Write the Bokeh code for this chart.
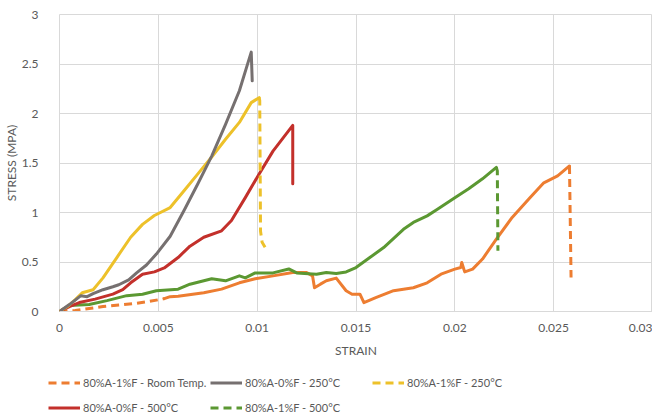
from bokeh.plotting import figure
from bokeh.layouts import column
from bokeh.models import Range1d, FixedTicker, NumeralTickFormatter, Legend, LegendItem
from bokeh.embed import file_html
from bokeh.resources import INLINE

# ---- data (strain, stress in MPa) ----
rt_dash_strain = [0, 0.0008, 0.0015, 0.0022, 0.003, 0.0038, 0.0045, 0.0053]
rt_dash_stress = [0, 0.01, 0.03, 0.05, 0.065, 0.08, 0.10, 0.13]
rt_strain = [0.0053, 0.0056, 0.006, 0.0073, 0.0082, 0.0091, 0.0099, 0.0108, 0.0118, 0.0125,
             0.0128, 0.0129, 0.0132, 0.0135, 0.014, 0.0145, 0.0148, 0.0152, 0.0154, 0.016,
             0.0169, 0.0179, 0.0186, 0.0193, 0.02, 0.0203, 0.02035, 0.0205, 0.0209, 0.0214,
             0.0221, 0.0229, 0.0238, 0.0245, 0.0252, 0.0258]
rt_stress = [0.13, 0.15, 0.155, 0.19, 0.226, 0.29, 0.33, 0.36, 0.394, 0.394,
             0.36, 0.24, 0.276, 0.31, 0.337, 0.21, 0.175, 0.175, 0.09, 0.14,
             0.21, 0.24, 0.29, 0.377, 0.428, 0.444, 0.495, 0.40, 0.428, 0.53,
             0.73, 0.95, 1.15, 1.30, 1.37, 1.47]
rt_drop_strain = [0.0258, 0.02588]
rt_drop_stress = [1.47, 0.343]

g250_strain = [0, 0.0005, 0.00107, 0.0014, 0.0017, 0.0022, 0.0027, 0.003, 0.0035, 0.0039,
               0.0044, 0.0049, 0.0056, 0.0063, 0.007, 0.0077, 0.0084, 0.0091, 0.0097, 0.00975]
g250_stress = [0, 0.07, 0.158, 0.15, 0.18, 0.22, 0.25, 0.27, 0.32, 0.39,
               0.47, 0.58, 0.76, 1.02, 1.29, 1.57, 1.89, 2.23, 2.62, 2.33]

y250_strain = [0, 0.0004, 0.0008, 0.00115, 0.0017, 0.0022, 0.0029, 0.0036, 0.0042, 0.0048,
               0.0056, 0.0063, 0.007, 0.0077, 0.0084, 0.0091, 0.0097, 0.0101]
y250_stress = [0, 0.05, 0.12, 0.19, 0.22, 0.34, 0.545, 0.75, 0.88, 0.97,
               1.05, 1.22, 1.39, 1.56, 1.74, 1.91, 2.11, 2.16]
y250_drop_strain = [0.0101, 0.01013, 0.01017, 0.01025, 0.0104]
y250_drop_stress = [2.16, 2.13, 0.81, 0.70, 0.65]

r500_strain = [0, 0.0005, 0.001, 0.0018, 0.0027, 0.0032, 0.0036, 0.0042, 0.0048, 0.0053,
               0.006, 0.0066, 0.0073, 0.0082, 0.0087, 0.0094, 0.0101, 0.0108, 0.0118, 0.0118]
r500_stress = [0, 0.05, 0.09, 0.125, 0.175, 0.22, 0.29, 0.377, 0.40, 0.44,
               0.545, 0.66, 0.75, 0.815, 0.92, 1.15, 1.39, 1.62, 1.88, 1.29]

gr500_strain = [0, 0.0005, 0.0015, 0.0024, 0.0034, 0.0042, 0.0049, 0.006, 0.0066, 0.0077,
                0.0084, 0.0091, 0.0094, 0.0099, 0.0108, 0.0116, 0.012, 0.013, 0.0135, 0.014,
                0.0145, 0.015, 0.0157, 0.0164, 0.0174, 0.0179, 0.0186, 0.0191, 0.02, 0.0207,
                0.0214, 0.0221]
gr500_stress = [0, 0.06, 0.07, 0.11, 0.16, 0.175, 0.21, 0.225, 0.276, 0.33,
                0.31, 0.36, 0.34, 0.39, 0.39, 0.43, 0.39, 0.377, 0.394, 0.384,
                0.40, 0.444, 0.545, 0.646, 0.83, 0.90, 0.966, 1.03, 1.15, 1.24,
                1.34, 1.455]
gr500_drop_strain = [0.0221, 0.02215, 0.02218]
gr500_drop_stress = [1.455, 1.42, 0.613]

x_ticks = [0, 0.005, 0.01, 0.015, 0.02, 0.025, 0.03]
y_ticks = [0, 0.5, 1, 1.5, 2, 2.5, 3]

labels = ["80%A-1%F - Room Temp.", "80%A-0%F - 250\u00b0C", "80%A-1%F - 250\u00b0C",
          "80%A-0%F - 500\u00b0C", "80%A-1%F - 500\u00b0C"]
colors = ["#ED7D31", "#767070", "#EDC12A", "#C3302B", "#5B9832"]
dashed = [True, False, True, False, True]

FONT = "Lato"
TXT = "#595959"
GRID = "#d9d9d9"
LW = 3
DASH = "8 5"
W = 652

p = figure(width=W, height=360, output_backend="svg", toolbar_location=None,
           x_range=Range1d(0, 0.03), y_range=Range1d(0, 3),
           min_border_left=58, min_border_right=0, min_border_top=14, min_border_bottom=49)
p.background_fill_color = "white"
p.border_fill_color = "white"
p.outline_line_color = GRID

for ax in (p.xaxis[0], p.yaxis[0]):
    ax.major_tick_line_color = None
    ax.minor_tick_line_color = None
    ax.major_label_text_font = FONT
    ax.major_label_text_font_size = "12px"
    ax.major_label_text_color = TXT
    ax.axis_label_text_font = FONT
    ax.axis_label_text_font_size = "12px"
    ax.axis_label_text_color = TXT
    ax.axis_label_text_font_style = "normal"

p.xaxis.ticker = FixedTicker(ticks=x_ticks)
p.yaxis.ticker = FixedTicker(ticks=y_ticks)
p.xaxis.formatter = NumeralTickFormatter(format="0.[000]")
p.yaxis.formatter = NumeralTickFormatter(format="0.[0]")
p.xaxis.axis_line_color = GRID
p.yaxis.axis_line_color = None
p.xaxis.axis_label = "STRAIN"
p.yaxis.axis_label = "STRESS (MPA)"
p.xaxis.major_label_standoff = 6
p.xaxis.axis_label_standoff = 8
p.yaxis.major_label_standoff = 15
p.yaxis.axis_label_standoff = 0

p.xgrid.ticker = FixedTicker(ticks=x_ticks)
p.ygrid.ticker = FixedTicker(ticks=y_ticks)
p.xgrid.grid_line_color = GRID
p.ygrid.grid_line_color = GRID

common = dict(line_width=LW, line_join="round", line_cap="round")

# Room temp (orange)
p.line(rt_dash_strain, rt_dash_stress, color=colors[0], line_dash=DASH, line_width=LW)
p.line(rt_strain, rt_stress, color=colors[0], **common)
p.line(rt_drop_strain, rt_drop_stress, color=colors[0], line_dash=DASH, line_width=LW)

# Green 500
p.line(gr500_strain, gr500_stress, color=colors[4], **common)
p.line(gr500_drop_strain, gr500_drop_stress, color=colors[4], line_dash=DASH, line_width=LW)

# Red 500
p.line(r500_strain, r500_stress, color=colors[3], **common)

# Yellow 250
p.line(y250_strain, y250_stress, color=colors[2], **common)
p.line(y250_drop_strain, y250_drop_stress, color=colors[2], line_dash=DASH, line_width=LW)

# Gray 250
p.line(g250_strain, g250_stress, color=colors[1], **common)

# ---- legend strip below the chart ----
lg = figure(width=W, height=54, output_backend="svg", toolbar_location=None,
            x_range=Range1d(0, 1), y_range=Range1d(0, 1),
            x_axis_type=None, y_axis_type=None,
            min_border=0, min_border_left=0, min_border_right=0,
            min_border_top=0, min_border_bottom=0)
lg.frame_align = False
lg.grid.visible = False
lg.outline_line_color = None
lg.background_fill_color = "white"
lg.border_fill_color = "white"

# legend swatches only: placeholder renderers kept outside the visible range
items = []
for lab, col, d in zip(labels, colors, dashed):
    kw = dict(line_dash=DASH) if d else {}
    r = lg.line([-2, -1], [-2, -1], color=col, line_width=LW, **kw)
    items.append(LegendItem(label=lab, renderers=[r]))

legend = Legend(items=items, location=(48, -6), orientation="horizontal", ncols=3,
                glyph_width=32, glyph_height=25, label_height=25, label_width=127,
                label_standoff=3, spacing=0, padding=0, margin=0,
                border_line_color=None, background_fill_alpha=0,
                label_text_font=FONT, label_text_font_size="11px", label_text_color=TXT)
lg.add_layout(legend, "center")

layout = column(p, lg, spacing=0)
open("out.html", "w").write(file_html(layout, INLINE))
